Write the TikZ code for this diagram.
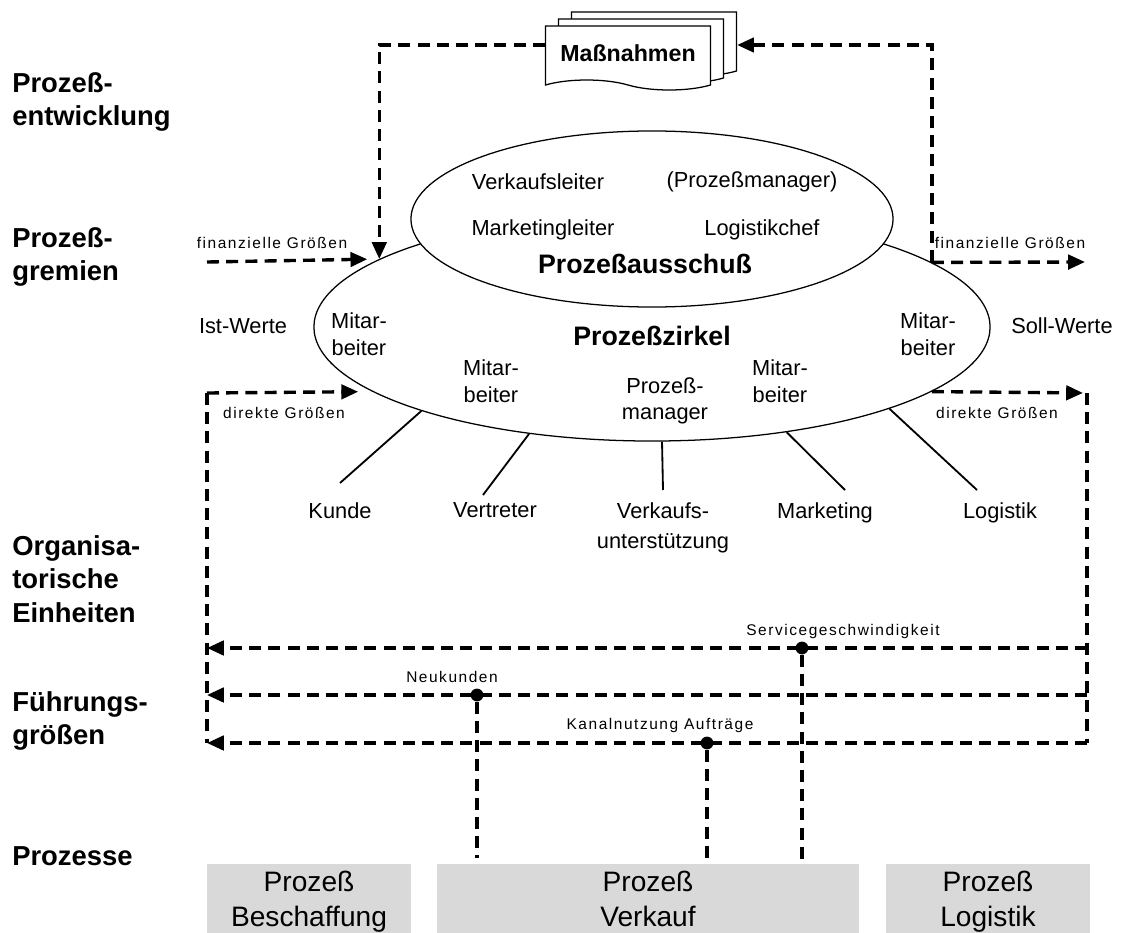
\documentclass[tikz,border=0pt]{standalone}
\usepackage{fontspec}
\setmainfont{Liberation Sans}
\newfontfamily\smallfont[LetterSpace=10]{Liberation Sans}
\usetikzlibrary{positioning, arrows.meta, shapes.geometric, shapes.symbols, shadows}
\tikzset{
x=0.025cm, y=-0.025cm, % one unit is one pixel of the sketch, y runs downwards
flow/.style={line width=2.4pt, dash pattern=on 0.3cm off 0.18cm, -{Triangle[length=0.42cm,width=0.36cm]}}, % dashed arrows
rail/.style={line width=2.4pt, dash pattern=on 0.3cm off 0.18cm}, % dashed lines without head
gremium/.style={ellipse, draw, line width=0.9pt, fill=white}, % the two committees
stage/.style={anchor=west, align=left, inner sep=0pt, font=\fontsize{19.5}{24}\selectfont\bfseries}, % labels on the left
member/.style={align=center, font=\fontsize{15.5}{19}\selectfont}, % text inside the ellipses
bodyname/.style={font=\fontsize{19}{23}\selectfont\bfseries},
orgunit/.style={anchor=north, align=center, font=\fontsize{15.5}{21}\selectfont}, % organisational units
unitline/.style={line width=1.3pt},
smalltext/.style={font=\smallfont\fontsize{11}{13}\selectfont},
dot/.style={circle, fill, inner sep=0pt, minimum size=0.32cm},
prozess/.style={fill=gray!30, minimum height=1.9cm, align=center, font=\fontsize{20}{25}\selectfont},
}
\begin{document}
\begin{tikzpicture}
\useasboundingbox (0,0) rectangle (1133,933);

% levels
\node[stage] (entwicklung) at (12,102) {Prozeß-\\entwicklung};
\node[stage] (gremien) at (12,257) {Prozeß-\\gremien};
\node[stage] (einheiten) at (12,579) {Organisa-\\torische\\Einheiten};
\node[stage] (fuehrung) at (12,721) {Führungs-\\größen};
\node[stage] (prozesse) at (12,856) {Prozesse};

% measures
\node[tape, tape bend top=none, tape bend bottom=out and in, tape bend height=0.25cm,
      draw, fill=white, line width=0.9pt, minimum width=4.125cm, minimum height=1.6cm,
      double copy shadow={shadow xshift=0.325cm, shadow yshift=0.175cm},
      font=\fontsize{16.5}{20}\selectfont\bfseries] (massnahmen) at (628,53) {Maßnahmen};

% committees
\node[gremium, minimum width=16.9cm, minimum height=5.7cm] (zirkel) at (652,327) {};
\node[gremium, minimum width=12.05cm, minimum height=4.4cm] (ausschuss) at (652,219) {};

\node[member] (verkaufsleiter) at (538,182) {Verkaufsleiter};
\node[member] (pmklammer) at (752,182) {(Prozeßmanager)};
\node[member] (marketingleiter) at (543,230) {Marketingleiter};
\node[member] (logistikchef) at (762,230) {Logistikchef};
\node[bodyname] (ausschussname) at (645,264) {Prozeßausschuß};
\node[bodyname] (zirkelname) at (652,336) {Prozeßzirkel};

\node[member] (ma1) at (359,334) {Mitar-\\beiter};
\node[member] (ma2) at (491,381) {Mitar-\\beiter};
\node[member] (pm) at (665,401) {Prozeß-\\manager};
\node[member] (ma3) at (780,381) {Mitar-\\beiter};
\node[member] (ma4) at (928,334) {Mitar-\\beiter};

\node[member] (ist) at (243,326) {Ist-Werte};
\node[member] (soll) at (1062,326) {Soll-Werte};

% organisational units
\node[orgunit] (kunde) at (340,498) {Kunde};
\node[orgunit] (vertreter) at (495,498) {Vertreter};
\node[orgunit] (vkunt) at (663,498) {Verkaufs-\\unterstützung};
\node[orgunit] (marketing) at (825,498) {Marketing};
\node[orgunit] (logistikunit) at (1000,498) {Logistik};

\draw[unitline] (zirkel.200.4) -- ([shift={(0,-15)}]kunde.north);
\draw[unitline] (zirkel.221.5) -- ([shift={(-12,-3)}]vertreter.north);
\draw[unitline] (zirkel.275.5) -- ([shift={(0,-8)}]vkunt.north);
\draw[unitline] (zirkel.322.1) -- ([shift={(20,-8)}]marketing.north);
\draw[unitline] (zirkel.341.8) -- ([shift={(-23,-8)}]logistikunit.north);

% feedback to the measures
\draw[flow] ([yshift=0.2cm]massnahmen.west) -| (zirkel.166.5);
\draw[flow] (zirkel.13.16) |- ([xshift=0.65cm,yshift=0.2cm]massnahmen.east);

% financial and direct figures
\coordinate (finL) at (207,262);
\coordinate (finR) at (1085,262);
\coordinate (dirL) at (207,393);
\coordinate (dirR) at (1087,393);
\draw[flow, shorten >=0.3cm] (finL) -- (zirkel.166.8);
\draw[flow] (zirkel.13.16) -- (finR);
\draw[flow, shorten >=0.35cm] (dirL) -- (zirkel.193.45);
\draw[flow, shorten >=0.1cm] (zirkel.-13.45) -- (dirR);
\node[smalltext] (finLtext) at (272,243) {finanzielle Größen};
\node[smalltext] (finRtext) at (1010,243) {finanzielle Größen};
\node[smalltext] (dirLtext) at (284,413) {direkte Größen};
\node[smalltext] (dirRtext) at (997,413) {direkte Größen};

% key figures
\foreach \y [count=\i] in {648,695,743} {
  \coordinate (r\i) at (1087,\y);
  \coordinate (l\i) at (207,\y);
  \draw[flow] (r\i) -- (l\i);
}
\draw[rail] (dirL) -- (l3);
\draw[rail] (dirR) -- (r3);

% processes
\node[prozess, minimum width=5.1cm] (beschaffung) at (309,902) {Prozeß\\Beschaffung};
\node[prozess, minimum width=10.55cm] (verkauf) at (648,902) {Prozeß\\Verkauf\vphantom{g}};
\node[prozess, minimum width=5.1cm] (logistik) at (988,902) {Prozeß\\Logistik};

\node[dot] (service) at (802,648) {};
\node[dot] (neukunden) at (477,695) {};
\node[dot] (kanal) at (707,743) {};
\node[smalltext] (servicetext) at (843,631) {Servicegeschwindigkeit};
\node[smalltext] (neukundentext) at (452,677) {Neukunden};
\node[smalltext] (kanaltext) at (660,725) {Kanalnutzung Aufträge};
\draw[rail, shorten >=0.1cm] (service) -- (service |- verkauf.north);
\draw[rail, shorten >=0.15cm] (neukunden) -- (neukunden |- verkauf.north);
\draw[rail, shorten >=0.1cm] (kanal) -- (kanal |- verkauf.north);
\end{tikzpicture}
\end{document}
